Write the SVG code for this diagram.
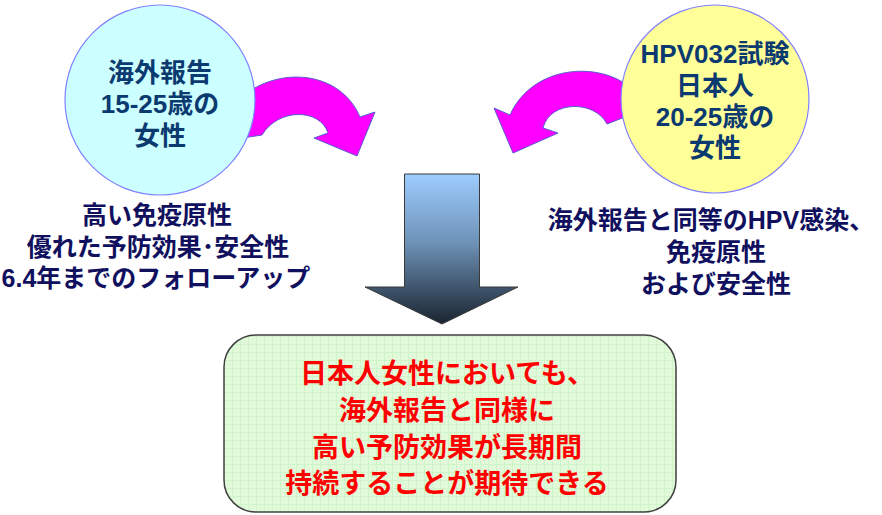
<svg xmlns="http://www.w3.org/2000/svg" width="882" height="515" viewBox="0 0 882 515">
<defs>
<style>
.ctext{font-family:"Liberation Sans","Noto Sans CJK JP",sans-serif;font-weight:bold;font-size:26px;fill:#0b3a70;text-anchor:middle}
.dtext{font-family:"Liberation Sans","Noto Sans CJK JP",sans-serif;font-weight:bold;font-size:25px;fill:#10105e;text-anchor:middle}
.rtext{font-family:"Liberation Sans","Noto Sans CJK JP",sans-serif;font-weight:bold;font-size:27px;fill:#ff0000;text-anchor:middle}
.curve{fill:#ff00ff;stroke:#5a5ad0;stroke-width:1}
.circ{stroke:#8080ff;stroke-width:1.2}
</style>
<linearGradient id="downGrad" x1="0" y1="0" x2="0" y2="1">
<stop offset="0" stop-color="#9dccff"/>
<stop offset="0.45" stop-color="#6f93b8"/>
<stop offset="1" stop-color="#1a2430"/>
</linearGradient>
<pattern id="grid" width="8" height="8" patternUnits="userSpaceOnUse">
<rect width="8" height="8" fill="#e0fada"/>
<path d="M0 0.5H8M0.5 0V8" stroke="#cff4c9" stroke-width="1"/>
<circle cx="4.5" cy="4.5" r="0.6" fill="#d4f5cf"/>
</pattern>
</defs>

<g id="connectors">
<path id="arrow-left" class="curve" d="M242 97 C278 66,340 70,360 117 L375 112 L357 156 L314 138 L328 133 C320 108,278 108,262 135 L242 138 Z"/>
<path id="arrow-right" class="curve" d="M635 92 C605 60,533 63,510 115 L494 108 L513 153 L558 133 L543 128 C550 100,595 100,607 124 L630 115 Z"/>
<path id="arrow-down" d="M404.5 174 L479.5 174 L479.5 287 L518 287 L442 324 L365 287 L404.5 287 Z" fill="url(#downGrad)" stroke="#3a3a3a" stroke-width="1"/>
</g>

<g id="node-left">
<circle class="circ" cx="160" cy="100" r="95" fill="#ccffff"/>
<text class="ctext" x="160" y="82">海外報告</text>
<text class="ctext" x="160" y="113">15-25歳の</text>
<text class="ctext" x="160" y="145">女性</text>
</g>

<g id="node-right">
<circle class="circ" cx="715" cy="99" r="94" fill="#ffff99"/>
<text class="ctext" x="715" y="63">HPV032試験</text>
<text class="ctext" x="715" y="95">日本人</text>
<text class="ctext" x="715" y="126">20-25歳の</text>
<text class="ctext" x="715" y="157">女性</text>
</g>

<g id="label-left">
<text class="dtext" x="157" y="224">高い免疫原性</text>
<text class="dtext" x="158" y="256">優れた予防効果･安全性</text>
<text class="dtext" x="156" y="287">6.4年までのフォローアップ</text>
</g>

<g id="label-right">
<text class="dtext" x="711" y="229">海外報告と同等のHPV感染、</text>
<text class="dtext" x="716" y="261">免疫原性</text>
<text class="dtext" x="716" y="293">および安全性</text>
</g>

<g id="node-result">
<rect x="224" y="335" width="452" height="177" rx="32" ry="32" fill="url(#grid)" stroke="#404040" stroke-width="1.5"/>
<text class="rtext" x="447" y="383">日本人女性においても、</text>
<text class="rtext" x="447" y="420">海外報告と同様に</text>
<text class="rtext" x="447" y="457">高い予防効果が長期間</text>
<text class="rtext" x="447" y="493">持続することが期待できる</text>
</g>
</svg>
